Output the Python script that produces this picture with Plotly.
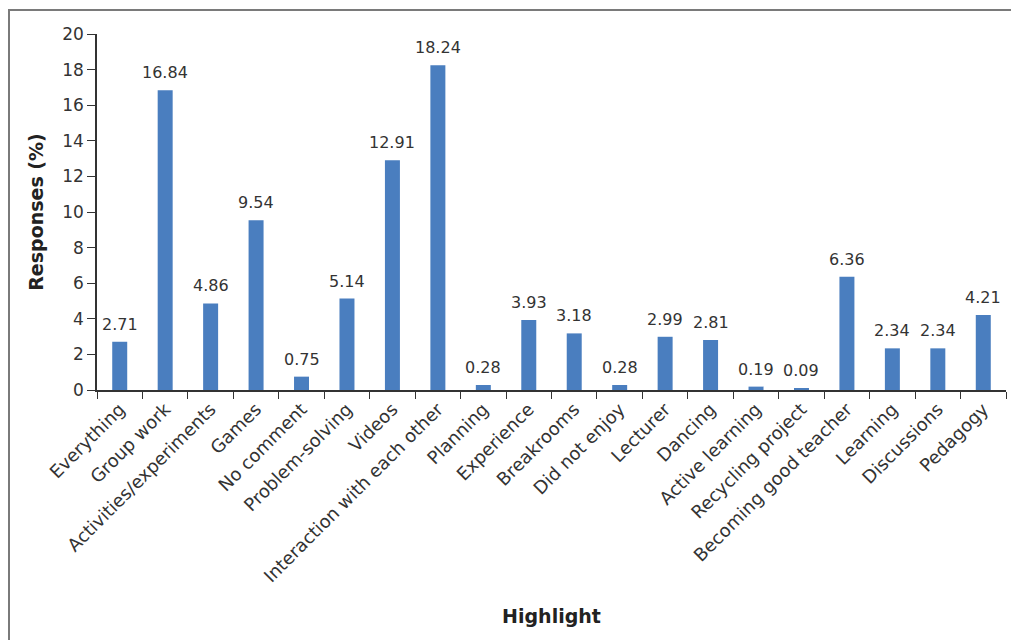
import plotly.graph_objects as go

categories = [
    "Everything", "Group work", "Activities/experiments", "Games", "No comment",
    "Problem-solving", "Videos", "Interaction with each other", "Planning",
    "Experience", "Breakrooms", "Did not enjoy", "Lecturer", "Dancing",
    "Active learning", "Recycling project", "Becoming good teacher", "Learning",
    "Discussions", "Pedagogy",
]
responses = [
    2.71, 16.84, 4.86, 9.54, 0.75, 5.14, 12.91, 18.24, 0.28, 3.93,
    3.18, 0.28, 2.99, 2.81, 0.19, 0.09, 6.36, 2.34, 2.34, 4.21,
]
y_ticks = [0, 2, 4, 6, 8, 10, 12, 14, 16, 18, 20]

FONT = "DejaVu Sans"
TEXT = "#333333"
BAR = "#4a7ebf"

W, H = 1011, 640
L, R, T, B = 97, 5, 34, 250
pw, ph = W - L - R, H - T - B

def px_x(p):
    return (p - L) / pw

def px_y(p):
    return (H - B - p) / ph

label_font = dict(family=FONT, size=16, color=TEXT)

fig = go.Figure(
    go.Bar(
        x=categories,
        y=responses,
        marker=dict(color=BAR, line=dict(width=0)),
        width=0.33,
        cliponaxis=False,
        hoverinfo="x+y",
    )
)

# Value labels above each bar
for cat, val in zip(categories, responses):
    fig.add_annotation(
        x=cat, y=val, xref="x", yref="y",
        text=f"{val:.2f}",
        showarrow=False,
        yanchor="bottom",
        yshift=6,
        font=label_font,
    )

fig.update_layout(
    width=W,
    height=H,
    margin=dict(l=L, r=R, t=T, b=B),
    paper_bgcolor="white",
    plot_bgcolor="white",
    showlegend=False,
    font=dict(family=FONT, color=TEXT),
)

fig.update_xaxes(
    type="category",
    tickangle=-45,
    tickfont=dict(family=FONT, size=18, color=TEXT),
    showline=True,
    linecolor="#333333",
    linewidth=1.5,
    ticks="outside",
    ticklen=7,
    tickcolor="#333333",
    tickson="boundaries",
    showgrid=False,
    title=dict(
        text="<b>Highlight</b>",
        font=dict(family=FONT, size=19, color="#222222"),
        standoff=24,
    ),
)

fig.update_yaxes(
    range=[0, 20],
    tickvals=y_ticks,
    tickfont=dict(family=FONT, size=17, color=TEXT),
    showline=True,
    linecolor="#333333",
    linewidth=1.5,
    ticks="outside",
    ticklen=8,
    tickcolor="#333333",
    showgrid=False,
    zeroline=False,
    title=dict(
        text="<b>Responses (%)</b>",
        font=dict(family=FONT, size=19, color="#222222"),
        standoff=14,
    ),
)

# Outer frame around the figure
fig.add_shape(
    type="rect",
    xref="paper", yref="paper",
    x0=px_x(9), x1=px_x(1020),
    y0=px_y(650), y1=px_y(10),
    line=dict(color="#7a7a7a", width=2),
    fillcolor="rgba(0,0,0,0)",
    layer="below",
)

fig.write_html("out.html")
